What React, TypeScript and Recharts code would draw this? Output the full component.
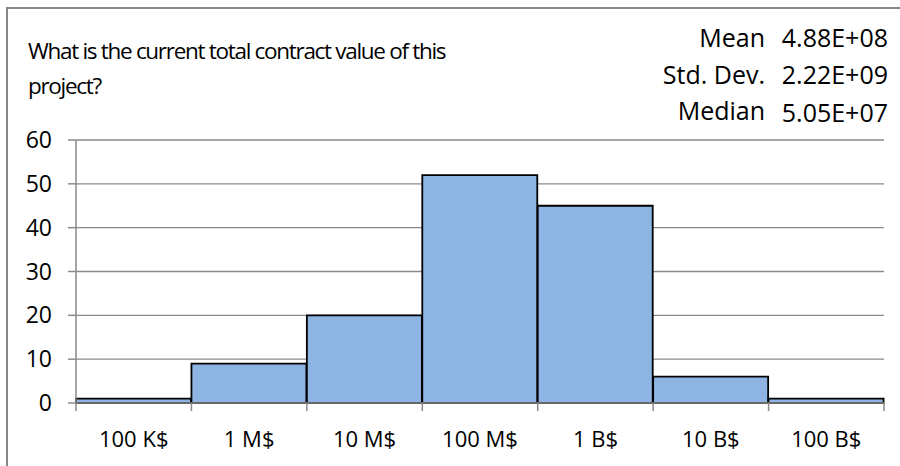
import React from 'react';
import { BarChart, Bar, XAxis, YAxis, CartesianGrid } from 'recharts';

const categories = ['100 K$', '1 M$', '10 M$', '100 M$', '1 B$', '10 B$', '100 B$'];
const counts = [1, 9, 20, 52, 45, 6, 1];
const yTicks = [0, 10, 20, 30, 40, 50, 60];
const titleLines = ['What is the current total contract value of this', 'project?'];
const statLabels = ['Mean', 'Std. Dev.', 'Median'];
const statValues = ['4.88E+08', '2.22E+09', '5.05E+07'];

const data = categories.map((c, i) => ({ name: c, count: counts[i] }));

const FONT = '"Open Sans", "Noto Sans", sans-serif';
const GRAY = '#8a8a8a';

const EdgeTick = (props: any) => {
  const { x, y, payload, index, visibleTicksCount, width } = props;
  const half =
    payload && typeof payload.offset === 'number' && payload.offset > 0
      ? payload.offset
      : width / visibleTicksCount / 2;
  return (
    <g>
      <line x1={x - half} x2={x - half} y1={y - 8} y2={y} stroke={GRAY} strokeWidth={1.5} />
      {index === visibleTicksCount - 1 && (
        <line x1={x + half} x2={x + half} y1={y - 8} y2={y} stroke={GRAY} strokeWidth={1.5} />
      )}
      <text x={x} y={y + 36} textAnchor="middle" fontSize={22} fontFamily={FONT} fill="#000">
        {payload.value}
      </text>
    </g>
  );
};

export default function App() {
  return (
    <div style={{ position: 'absolute', left: 0, top: 0, width: 900, height: 466, overflow: 'hidden', background: '#fff' }}>
      <div style={{ position: 'absolute', left: 0, top: 0 }}>
        <BarChart
          width={900}
          height={466}
          data={data}
          margin={{ top: 140, right: 16, left: 0, bottom: 0 }}
          barCategoryGap={0}
          barGap={0}
        >
          <CartesianGrid vertical={false} stroke={GRAY} strokeWidth={1.3} />
          <YAxis
            domain={[0, 60]}
            ticks={yTicks}
            width={76}
            tickSize={8}
            tickMargin={16}
            axisLine={{ stroke: GRAY, strokeWidth: 1.5 }}
            tickLine={{ stroke: GRAY, strokeWidth: 1.5 }}
            tick={{ fill: '#000', fontSize: 23, fontFamily: FONT }}
            interval={0}
          />
          <XAxis
            dataKey="name"
            height={63}
            tickSize={8}
            tickMargin={0}
            tickLine={false}
            axisLine={{ stroke: GRAY, strokeWidth: 1.5 }}
            tick={<EdgeTick />}
            interval={0}
          />
          <Bar dataKey="count" fill="#8db4e2" stroke="#000" strokeWidth={1.8} isAnimationActive={false} />
        </BarChart>
      </div>
      <svg width={900} height={466} style={{ position: 'absolute', left: 0, top: 0, pointerEvents: 'none' }}>
        <path d="M7,480 L7,8 L910,8" fill="none" stroke="#868686" strokeWidth={2} />
        {titleLines.map((t, i) => (
          <text key={t} x={28} y={59 + i * 35} fontSize={22.5} letterSpacing={-1.3} fontFamily={FONT} fill="#000">
            {t}
          </text>
        ))}
        {statLabels.map((s, i) => (
          <text key={s} x={765} y={47 + i * 36.5} textAnchor="end" fontSize={25} fontFamily={FONT} fill="#000">
            {s}
          </text>
        ))}
        {statValues.map((v, i) => (
          <text key={v} x={888} y={47 + i * 36.5 + (i === 2 ? 2 : 0)} textAnchor="end" fontSize={25} fontFamily={FONT} fill="#000">
            {v}
          </text>
        ))}
      </svg>
    </div>
  );
}
